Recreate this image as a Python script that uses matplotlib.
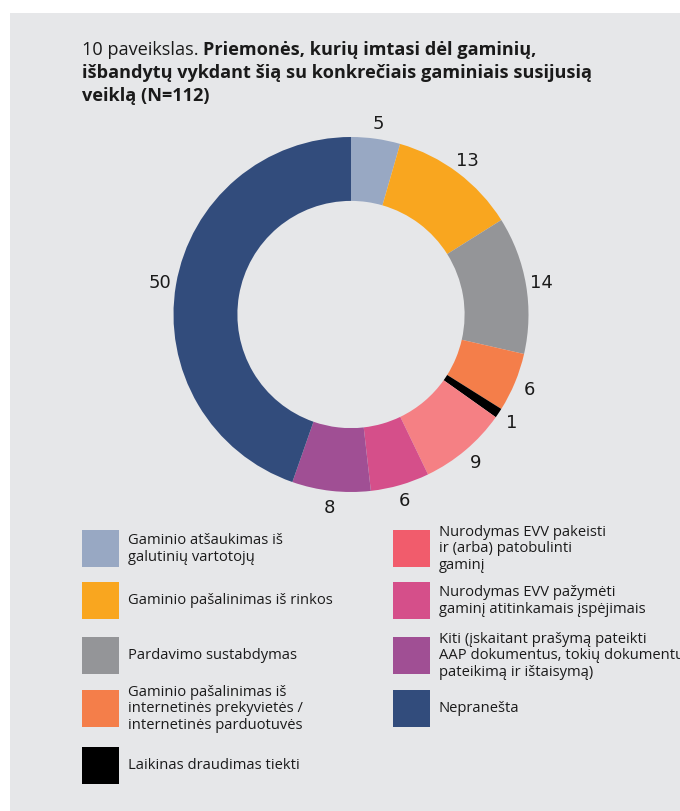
import matplotlib
matplotlib.use("Agg")
import matplotlib.pyplot as plt
from matplotlib.patches import Rectangle

# ---- data ----
categories = [
    "Gaminio atšaukimas iš\ngalutinių vartotojų",
    "Gaminio pašalinimas iš rinkos",
    "Pardavimo sustabdymas",
    "Gaminio pašalinimas iš\ninternetinės prekyvietės /\ninternetinės parduotuvės",
    "Laikinas draudimas tiekti",
    "Nurodymas EVV pakeisti\nir (arba) patobulinti\ngaminį",
    "Nurodymas EVV pažymėti\ngaminį atitinkamais įspėjimais",
    "Kiti (įskaitant prašymą pateikti\nAAP dokumentus, tokių dokumentų\npateikimą ir ištaisymą)",
    "Nepranešta",
]
values = [5, 13, 14, 6, 1, 9, 6, 8, 50]
pie_colors = ["#98a8c3", "#f9a61f", "#949598", "#f47e4a", "#000000",
              "#f58084", "#d54f8a", "#a04f94", "#324c7c"]
legend_colors = ["#98a8c3", "#f9a61f", "#949598", "#f47e4a", "#000000",
                 "#f15c6c", "#d54f8a", "#a04f94", "#324c7c"]
title_prefix = "10 paveikslas. "
title_bold_lines = ["Priemonės, kurių imtasi dėl gaminių,",
                    "išbandytų vykdant šią su konkrečiais gaminiais susijusią",
                    "veiklą (N=112)"]

W, H = 680, 812
BG = "#e6e7e9"
fig = plt.figure(figsize=(W / 100, H / 100), dpi=100)
fig.patch.set_facecolor("white")
fig.patches.append(Rectangle((10 / W, 0), 1 - 10 / W, (H - 14) / H,
                             transform=fig.transFigure, facecolor=BG,
                             edgecolor="none", zorder=-10))

FONT = ["Open Sans", "DejaVu Sans"]
renderer = fig.canvas.get_renderer()


def fit_size(text, target_px, weight, base=10.0):
    t = fig.text(0, 0, text, fontsize=base, family=FONT, fontweight=weight)
    w = t.get_window_extent(renderer=renderer).width
    t.remove()
    return base * target_px / w


title_fs = fit_size(title_bold_lines[1], 508, "bold")
legend_fs = fit_size(categories[1], 205, "normal")

# ---- title ----
tx, ty = 82, 55
t0 = fig.text(tx / W, 1 - ty / H, title_prefix, fontsize=title_fs, family=FONT,
              fontweight="normal", color="#1a1a1a", va="baseline", ha="left")
bb = t0.get_window_extent(renderer=renderer)
fig.text(bb.x1 / W, 1 - ty / H, title_bold_lines[0], fontsize=title_fs, family=FONT,
         fontweight="bold", color="#1a1a1a", va="baseline", ha="left")
for i, line in enumerate(title_bold_lines[1:], start=1):
    fig.text(tx / W, 1 - (ty + 23 * i) / H, line, fontsize=title_fs, family=FONT,
             fontweight="bold", color="#1a1a1a", va="baseline", ha="left")

# ---- donut ----
cx, cy, R = 351, 315.5, 177.5
lim = 1.3
size = 2 * lim * R
ax = fig.add_axes([(cx - size / 2) / W, (H - cy - size / 2) / H, size / W, size / H])
ax.pie(values, colors=pie_colors, labels=[str(v) for v in values],
       startangle=90, counterclock=False, radius=1.0,
       labeldistance=1.09,
       wedgeprops=dict(width=0.36, linewidth=0),
       textprops=dict(fontsize=13, color="#1a1a1a", family="DejaVu Sans"))
for t in ax.texts:
    t.set_ha("center")
    t.set_va("center")
ax.set_xlim(-lim, lim)
ax.set_ylim(-lim, lim)
ax.set_aspect("equal")
ax.axis("off")

# ---- legend (manual) ----
left_rows = [549, 601, 656, 709, 766]
right_rows = [549, 601, 656, 709]
positions = [(82, y) for y in left_rows] + [(393, y) for y in right_rows]
ps = 37
for (px, py), lab, col in zip(positions, categories, legend_colors):
    fig.patches.append(Rectangle((px / W, 1 - (py + ps / 2) / H), ps / W, ps / H,
                                 transform=fig.transFigure, facecolor=col,
                                 edgecolor="none"))
    fig.text((px + 46) / W, 1 - py / H, lab, fontsize=legend_fs, family=FONT,
             color="#1a1a1a", va="center", ha="left", linespacing=1.12)

fig.savefig("out.png", dpi=100, facecolor=fig.get_facecolor())
